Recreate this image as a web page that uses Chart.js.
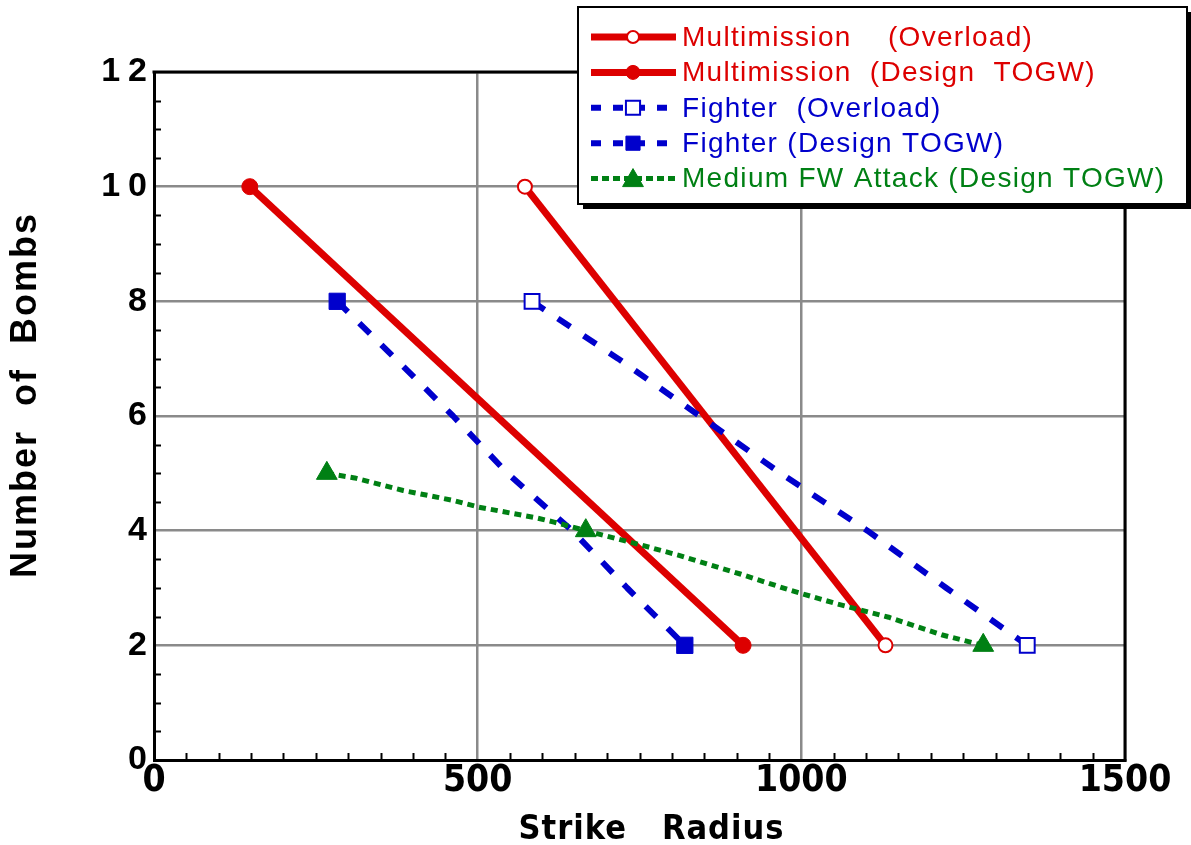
<!DOCTYPE html>
<html>
<head>
<meta charset="utf-8">
<script src="https://cdn.jsdelivr.net/npm/chart.js@4.4.1/dist/chart.umd.min.js"></script>
<style>
  html, body { margin: 0; padding: 0; background: #ffffff; }
  #wrap { width: 1191px; height: 845px; }
</style>
</head>
<body>
<div id="wrap"><canvas id="chart" width="1191" height="845"></canvas></div>
<script>
// ---- data -------------------------------------------------------------
const radiusTicks = [0, 500, 1000, 1500];
const bombTicks = [0, 2, 4, 6, 8, 10, 12];

const seriesLabels = [
  'Multimission    (Overload)',
  'Multimission  (Design  TOGW)',
  'Fighter  (Overload)',
  'Fighter (Design TOGW)',
  'Medium FW Attack (Design TOGW)'
];

// Multimission, overload take-off weight
const multiOverloadRadius = [573, 1130];
const multiOverloadBombs  = [10, 2];

// Multimission, design take-off gross weight
const multiDesignRadius = [148, 910];
const multiDesignBombs  = [10, 2];

// Fighter, overload (curve + marked end points)
const fighterOverloadRadius = [584, 717, 843, 968, 1102, 1224, 1349];
const fighterOverloadBombs  = [8, 7, 6, 5, 4, 3, 2];
const fighterOverloadMarked = [584, 1349];

// Fighter, design TOGW
const fighterDesignRadius = [283, 373, 462, 546, 646, 731, 820];
const fighterDesignBombs  = [8, 7, 6, 5, 4, 3, 2];
const fighterDesignMarked = [283, 820];

// Medium fixed-wing attack, design TOGW
const fwAttackRadius = [267, 310, 385, 461, 502, 592, 618, 667, 749, 811, 907, 983, 1053, 1135, 1218, 1281];
const fwAttackBombs  = [5, 4.92, 4.70, 4.53, 4.41, 4.22, 4.15, 4, 3.76, 3.57, 3.24, 2.96, 2.73, 2.49, 2.18, 2];
const fwAttackMarked = [267, 667, 1281];

// ---- styling ----------------------------------------------------------
const RED = '#dd0000';
const BLUE = '#0000cc';
const GREEN = '#008014';
const GRID = '#8a8a8a';

const zip = (xs, ys) => xs.map((x, i) => ({ x: x, y: ys[i] }));
const markerAt = (marked, r) => (ctx) => (ctx.raw && marked.includes(ctx.raw.x)) ? r : 0;

const seriesStyles = [
  { color: RED,   width: 7, dash: [],       point: 'circle',   r: 7,    filled: false },
  { color: RED,   width: 7, dash: [],       point: 'circle',   r: 8,    filled: true  },
  { color: BLUE,  width: 6, dash: [15, 16], point: 'rect',     r: 10.5, filled: false },
  { color: BLUE,  width: 6, dash: [15, 16], point: 'rect',     r: 11.5, filled: true  },
  { color: GREEN, width: 5, dash: [7, 5],   point: 'triangle', r: 12,   filled: true  }
];

function makeDataset(i, xs, ys, marked, order) {
  const s = seriesStyles[i];
  return {
    label: seriesLabels[i],
    data: zip(xs, ys),
    borderColor: s.color,
    borderWidth: s.width,
    borderDash: s.dash,
    borderCapStyle: 'butt',
    borderJoinStyle: 'round',
    tension: 0,
    fill: false,
    pointStyle: s.point,
    pointRadius: markerAt(marked, s.r),
    pointHoverRadius: markerAt(marked, s.r),
    pointBackgroundColor: s.filled ? s.color : '#ffffff',
    pointBorderColor: s.color,
    pointBorderWidth: s.filled ? 1 : 2,
    order: order
  };
}

// ---- plugins ----------------------------------------------------------
const tickFontFamily = "'Liberation Sans Narrow', 'DejaVu Sans Condensed', 'Liberation Sans', sans-serif";

// letter spacing and title placement for the axes
const axisSpacing = {
  id: 'axisSpacing',
  beforeDraw(chart) {
    const spec = {
      x: { labels: 0, title: 1, dx: 12, dy: 0 },
      y: { labels: 8, title: 2, dx: 0, dy: -21 }
    };
    Object.keys(spec).forEach((id) => {
      const scale = chart.scales[id];
      if (!scale || scale._spaced) return;
      const origLabels = scale.drawLabels;
      const origTitle = scale.drawTitle;
      scale.drawLabels = function (area) {
        const c = this.ctx; c.save(); c.letterSpacing = spec[id].labels + 'px';
        origLabels.call(this, area); c.restore();
      };
      scale.drawTitle = function () {
        const c = this.ctx; c.save(); c.letterSpacing = spec[id].title + 'px';
        c.translate(spec[id].dx, spec[id].dy);
        origTitle.call(this); c.restore();
      };
      scale._spaced = true;
    });
  }
};

// plot frame and inward minor ticks
const frameAndTicks = {
  id: 'frameAndTicks',
  beforeDatasetsDraw(chart) {
    const { ctx, chartArea: a, scales: { x, y } } = chart;
    ctx.save();
    ctx.strokeStyle = '#000';
    ctx.lineWidth = 2;
    for (let v = 50; v < 1500; v += 50) {
      if (v % 500 === 0) continue;
      const px = Math.round(x.getPixelForValue(v)) + 0.5;
      ctx.beginPath(); ctx.moveTo(px, a.bottom); ctx.lineTo(px, a.bottom - 7); ctx.stroke();
    }
    for (let v = 0.5; v < 12; v += 0.5) {
      if (v % 2 === 0) continue;
      const py = Math.round(y.getPixelForValue(v)) + 0.5;
      ctx.beginPath(); ctx.moveTo(a.left, py); ctx.lineTo(a.left + 7, py); ctx.stroke();
    }
    ctx.lineWidth = 3;
    ctx.beginPath();
    ctx.moveTo(a.left - 1.5, a.top);
    ctx.lineTo(a.right, a.top);
    ctx.lineTo(a.right, a.bottom + 1.5);
    ctx.stroke();
    ctx.restore();
  }
};

function drawMarker(ctx, s, cx, cy, r) {
  ctx.save();
  ctx.fillStyle = s.filled ? s.color : '#ffffff';
  ctx.strokeStyle = s.color;
  ctx.lineWidth = s.filled ? 1 : 2;
  ctx.setLineDash([]);
  ctx.beginPath();
  if (s.point === 'circle') {
    ctx.arc(cx, cy, r, 0, Math.PI * 2);
  } else if (s.point === 'rect') {
    const h = r * Math.SQRT1_2;
    ctx.rect(cx - h, cy - h, 2 * h, 2 * h);
  } else {
    for (let k = 0; k < 3; k++) {
      const ang = k * 2 * Math.PI / 3;
      const px = cx + Math.sin(ang) * r, py = cy - Math.cos(ang) * r;
      if (k === 0) ctx.moveTo(px, py); else ctx.lineTo(px, py);
    }
    ctx.closePath();
  }
  ctx.fill();
  ctx.stroke();
  ctx.restore();
}

// boxed legend with drop shadow
const boxedLegend = {
  id: 'boxedLegend',
  afterDraw(chart) {
    const ctx = chart.ctx;
    const bx = 578, by = 7, bw = 609, bh = 197;
    ctx.save();
    ctx.fillStyle = '#000';
    ctx.fillRect(bx + 5, by + 5, bw, bh);
    ctx.fillStyle = '#fff';
    ctx.fillRect(bx, by, bw, bh);
    ctx.strokeStyle = '#000';
    ctx.lineWidth = 2;
    ctx.strokeRect(bx, by, bw, bh);

    chart.data.datasets.forEach((ds, i) => {
      const s = seriesStyles[i];
      const rowY = 37 + i * 35.4;
      ctx.save();
      ctx.strokeStyle = s.color;
      ctx.lineWidth = s.width;
      ctx.lineCap = 'butt';
      ctx.setLineDash(s.dash.length ? (i === 4 ? [7, 4] : [10, 12]) : []);
      ctx.beginPath();
      ctx.moveTo(591, rowY);
      ctx.lineTo(676, rowY);
      ctx.stroke();
      ctx.restore();
      const legendR = s.point === 'circle' ? (s.filled ? 7 : 6) : (s.point === 'rect' ? 10 : 12);
      drawMarker(ctx, s, 633, rowY + (s.point === 'triangle' ? 2 : 0), legendR);

      ctx.save();
      ctx.fillStyle = s.color;
      ctx.font = "28px 'Liberation Sans', Arial, sans-serif";
      ctx.letterSpacing = '1.3px';
      ctx.textAlign = 'left';
      ctx.textBaseline = 'middle';
      ctx.fillText(ds.label, 682, rowY + 1);
      ctx.restore();
    });
    ctx.restore();
  }
};

// ---- chart ------------------------------------------------------------
new Chart(document.getElementById('chart'), {
  type: 'line',
  data: {
    datasets: [
      makeDataset(0, multiOverloadRadius, multiOverloadBombs, multiOverloadRadius, 3),
      makeDataset(1, multiDesignRadius, multiDesignBombs, multiDesignRadius, 3),
      makeDataset(2, fighterOverloadRadius, fighterOverloadBombs, fighterOverloadMarked, 2),
      makeDataset(3, fighterDesignRadius, fighterDesignBombs, fighterDesignMarked, 2),
      makeDataset(4, fwAttackRadius, fwAttackBombs, fwAttackMarked, 1)
    ]
  },
  options: {
    responsive: false,
    animation: false,
    events: [],
    layout: { padding: { left: 0, top: 72, right: 66, bottom: 0 } },
    plugins: { legend: { display: false }, tooltip: { enabled: false } },
    scales: {
      x: {
        type: 'linear',
        min: 0, max: 1500,
        afterBuildTicks: (s) => { s.ticks = radiusTicks.map((v) => ({ value: v })); },
        afterFit: (s) => { s.height = 85; },
        grid: { color: GRID, lineWidth: 2.5, drawTicks: false },
        border: { color: '#000', width: 3 },
        ticks: {
          color: '#000', padding: 3, maxRotation: 0, autoSkip: false,
          callback: (v) => String(v),
          font: { family: tickFontFamily, size: 37, weight: 'bold', lineHeight: 1 }
        },
        title: {
          display: true, text: 'Strike   Radius', color: '#000',
          font: { family: tickFontFamily, size: 34, weight: 'bold', lineHeight: 0.9 },
          padding: { top: 0, bottom: 0 }
        }
      },
      y: {
        type: 'linear',
        min: 0, max: 12,
        afterBuildTicks: (s) => { s.ticks = bombTicks.map((v) => ({ value: v })); },
        afterFit: (s) => { s.width = 154; },
        grid: { color: GRID, lineWidth: 2.5, drawTicks: false },
        border: { color: '#000', width: 3 },
        ticks: {
          color: '#000', padding: -1,
          font: { family: "'Liberation Sans', Arial, sans-serif", size: 34, weight: 'bold', lineHeight: 1 }
        },
        title: {
          display: true, text: 'Number  of  Bombs', color: '#000',
          font: { family: "'Liberation Sans', Arial, sans-serif", size: 36, weight: 'bold', lineHeight: 1 },
          padding: { top: 8, bottom: 0 }
        }
      }
    }
  },
  plugins: [axisSpacing, frameAndTicks, boxedLegend]
});
</script>
</body>
</html>
